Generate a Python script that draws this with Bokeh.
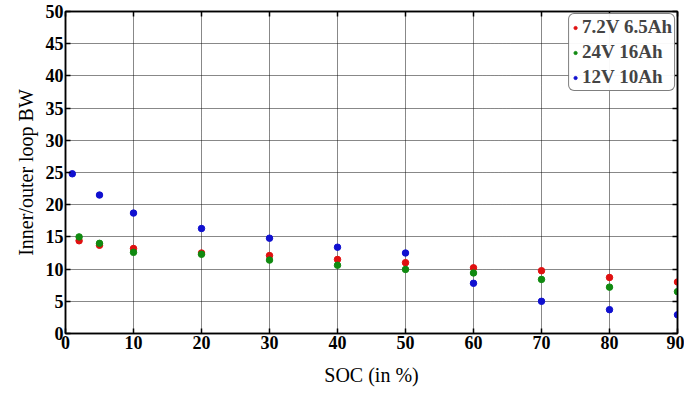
from bokeh.plotting import figure
from bokeh.models import Range1d, LinearAxis, Legend, LegendItem, FixedTicker
from bokeh.embed import file_html
from bokeh.resources import INLINE

# State of charge (%) and measured bandwidth ratios per battery
soc_red = [2, 5, 10, 20, 30, 40, 50, 60, 70, 80, 90]
bw_red = [14.4, 13.7, 13.2, 12.5, 12.1, 11.5, 11.0, 10.2, 9.75, 8.7, 8.0]

soc_green = [2, 5, 10, 20, 30, 40, 50, 60, 70, 80, 90]
bw_green = [15.0, 14.0, 12.6, 12.3, 11.4, 10.6, 9.95, 9.4, 8.4, 7.2, 6.5]

soc_blue = [1, 5, 10, 20, 30, 40, 50, 60, 70, 80, 90]
bw_blue = [24.8, 21.5, 18.7, 16.3, 14.8, 13.4, 12.5, 7.8, 5.0, 3.7, 2.9]

labels = ["7.2V 6.5Ah", "24V 16Ah", "12V 10Ah"]
colors = ["#e01010", "#108a10", "#1010d0"]

x_ticks = [0, 10, 20, 30, 40, 50, 60, 70, 80, 90]
y_ticks = [0, 5, 10, 15, 20, 25, 30, 35, 40, 45, 50]

FONT = "Liberation Serif"

p = figure(width=684, height=399, output_backend="svg", toolbar_location=None,
           x_range=Range1d(0, 90), y_range=Range1d(0, 50),
           min_border_left=65, min_border_right=7, min_border_top=11,
           min_border_bottom=66)
p.background_fill_color = "white"
p.border_fill_color = "white"
p.outline_line_color = "black"
p.outline_line_width = 1.5

for ax in (p.xaxis[0], p.yaxis[0]):
    ax.major_label_text_font = FONT
    ax.major_label_text_font_style = "bold"
    ax.major_label_text_font_size = "18px"
    ax.major_label_text_color = "black"
    ax.axis_label_text_font = FONT
    ax.axis_label_text_font_style = "normal"
    ax.axis_label_text_font_size = "20px"
    ax.axis_label_text_color = "black"
    ax.axis_line_width = 1.5
    ax.axis_line_color = "black"
    ax.major_tick_in = 5
    ax.major_tick_out = 0
    ax.minor_tick_line_color = None
    ax.major_tick_line_width = 1.5

p.xaxis[0].ticker = FixedTicker(ticks=x_ticks)
p.yaxis[0].ticker = FixedTicker(ticks=y_ticks)
p.xaxis[0].axis_label = "SOC (in %)"
p.yaxis[0].axis_label = "Inner/outer loop BW"
p.xaxis[0].major_label_standoff = 2
p.yaxis[0].major_label_standoff = 2
p.xaxis[0].axis_label_standoff = 12
p.yaxis[0].axis_label_standoff = 6

# Unlabelled axes on the top and right to close the box with inward ticks
blank_x = {t: "" for t in x_ticks}
blank_y = {t: "" for t in y_ticks}
top = LinearAxis(ticker=FixedTicker(ticks=x_ticks), major_label_overrides=blank_x,
                 major_tick_in=5, major_tick_out=0, minor_tick_line_color=None,
                 axis_line_width=1.5, major_tick_line_width=1.5,
                 major_label_standoff=0)
right = LinearAxis(ticker=FixedTicker(ticks=y_ticks), major_label_overrides=blank_y,
                   major_tick_in=5, major_tick_out=0, minor_tick_line_color=None,
                   axis_line_width=1.5, major_tick_line_width=1.5,
                   major_label_standoff=0)
p.add_layout(top, "above")
p.add_layout(right, "right")

for g in (p.xgrid[0], p.ygrid[0]):
    g.grid_line_color = "#111111"
    g.grid_line_dash = "1 1"
    g.grid_line_width = 1
p.xgrid[0].ticker = FixedTicker(ticks=x_ticks)
p.ygrid[0].ticker = FixedTicker(ticks=y_ticks)

r_red = p.scatter(soc_red, bw_red, size=6.5, color=colors[0])
r_green = p.scatter(soc_green, bw_green, size=6.5, color=colors[1])
r_blue = p.scatter(soc_blue, bw_blue, size=6.5, color=colors[2])

legend = Legend(items=[LegendItem(label=labels[0], renderers=[r_red]),
                       LegendItem(label=labels[1], renderers=[r_green]),
                       LegendItem(label=labels[2], renderers=[r_blue])],
                location="top_right")
legend.label_text_font = FONT
legend.label_text_font_style = "bold"
legend.label_text_font_size = "19px"
legend.border_line_color = "black"
legend.border_line_width = 1.2
legend.border_radius = 6
legend.padding = 2
legend.spacing = 3
legend.margin = 2
legend.glyph_width = 8
legend.label_standoff = 3
legend.label_height = 21
legend.glyph_height = 21
p.add_layout(legend)

open("out.html", "w").write(file_html(p, INLINE))
